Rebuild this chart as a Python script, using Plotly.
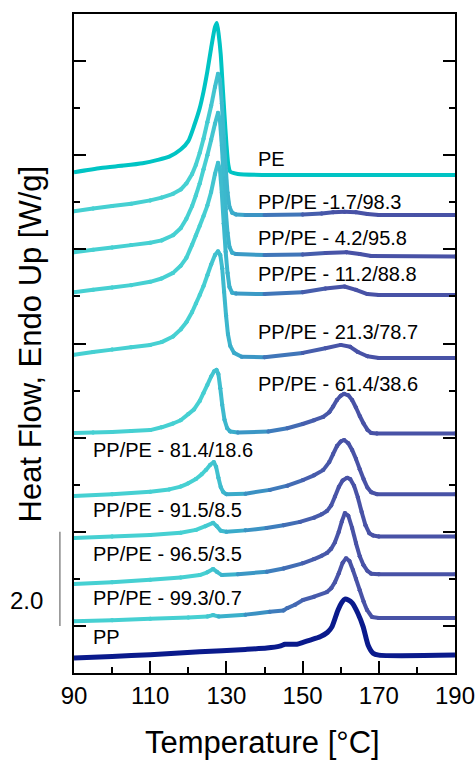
import plotly.graph_objects as go

# DSC heating traces: temperature (°C) and vertically offset heat flow (W/g)
T_pe = [90, 97, 103, 108, 112, 115, 118, 120, 121.5, 123, 124, 125, 126, 127, 127.5,
        128, 128.5, 129, 129.5, 130, 130.5, 131, 133, 140, 160, 190]
hf_pe = [10.64, 10.73, 10.78, 10.83, 10.9, 10.97, 11.12, 11.3, 11.62, 12.0, 12.35, 12.78, 13.28, 13.72, 13.81,
         13.55, 13.15, 12.5, 11.85, 11.25, 10.8, 10.65, 10.6, 10.58, 10.58, 10.58]

T_17 = [90, 95, 100, 105, 110, 113, 116, 118, 119.5, 121, 122, 123, 124, 125, 126, 127, 127.8, 128.3,
        128.8, 129.3, 129.8, 130.3, 130.8, 131.5, 132.5, 135, 140, 150, 155, 158, 161, 164, 167, 170, 180, 190]
hf_17 = [9.81, 9.87, 9.92, 9.97, 10.04, 10.1, 10.18, 10.27, 10.4, 10.6, 10.8, 11.05, 11.35, 11.7, 12.05, 12.45,
         12.73, 12.6, 12.1, 11.4, 10.75, 10.2, 9.9, 9.78, 9.74, 9.73, 9.73, 9.74, 9.76, 9.79, 9.8, 9.79, 9.75,
         9.73, 9.73, 9.73]

T_42 = [90, 95, 100, 105, 110, 113, 116, 118, 119.5, 121, 122, 123, 124, 125, 126, 127, 127.8, 128.3,
        128.8, 129.3, 129.8, 130.3, 130.8, 131.5, 132.5, 140, 150, 156, 161.5, 165, 168, 190]
hf_42 = [8.94, 8.99, 9.04, 9.09, 9.14, 9.19, 9.3, 9.45, 9.65, 9.92, 10.15, 10.4, 10.7, 11.0, 11.33, 11.67,
         11.9, 11.75, 11.2, 10.5, 9.85, 9.35, 9.05, 8.93, 8.9, 8.88, 8.89, 8.92, 8.94, 8.9, 8.86, 8.85]

T_112 = [90, 95, 100, 105, 110, 113, 116, 118, 119.5, 121, 122, 123, 124, 125, 126, 127, 127.8, 128.3,
         128.8, 129.3, 129.8, 130.3, 130.8, 131.5, 132.5, 140, 150, 156, 161, 164, 167, 170, 190]
hf_112 = [8.09, 8.14, 8.19, 8.24, 8.31, 8.38, 8.5, 8.65, 8.82, 9.1, 9.3, 9.5, 9.71, 9.93, 10.22, 10.6, 10.84,
          10.7, 10.2, 9.55, 8.95, 8.5, 8.2, 8.08, 8.06, 8.05, 8.09, 8.17, 8.21, 8.14, 8.05, 8.03, 8.03]

T_213 = [90, 95, 100, 105, 110, 113, 116, 118, 119.5, 121, 122, 123, 124, 125, 126, 127, 127.8, 128.4,
         128.9, 129.4, 129.9, 130.4, 131, 132, 134, 140, 150, 156, 160, 162.5, 164.5, 167, 170, 190]
hf_213 = [6.76, 6.82, 6.87, 6.92, 6.97, 7.03, 7.15, 7.3, 7.45, 7.67, 7.85, 8.03, 8.22, 8.45, 8.68, 8.88, 8.96,
          8.88, 8.6, 8.1, 7.6, 7.2, 6.95, 6.8, 6.72, 6.71, 6.8, 6.9, 6.97, 6.93, 6.82, 6.73, 6.69, 6.69]

T_614 = [90, 95, 100, 105, 110, 113, 116, 118, 120, 121.5, 123, 124, 125, 126, 126.8, 127.4, 127.9, 128.4,
         128.9, 129.5, 130.2, 131, 133, 141, 146, 150, 153, 155.4, 157, 158, 159, 160, 160.9, 162, 163, 164,
         165, 166, 167, 168, 169.5, 190]
hf_614 = [5.1, 5.11, 5.12, 5.14, 5.16, 5.22, 5.3, 5.37, 5.5, 5.6, 5.78, 5.95, 6.12, 6.3, 6.41, 6.44, 6.35, 6.05,
          5.7, 5.38, 5.2, 5.13, 5.11, 5.13, 5.2, 5.29, 5.37, 5.44, 5.54, 5.66, 5.8, 5.89, 5.93, 5.9, 5.8, 5.64,
          5.46, 5.3, 5.17, 5.1, 5.09, 5.09]

T_814 = [90, 100, 110, 115, 118, 120, 122, 123.5, 124.7, 125.7, 126.7, 127.3, 127.9, 128.5, 129.2, 130, 135,
         141.4, 146, 150.1, 153, 155.4, 157, 158, 159, 160, 160.9, 162, 163, 164, 165, 166, 167, 168, 169.5, 190]
hf_814 = [3.76, 3.8, 3.85, 3.9, 3.96, 4.03, 4.12, 4.22, 4.32, 4.42, 4.48, 4.38, 4.15, 3.95, 3.84, 3.8, 3.81,
          3.89, 3.98, 4.1, 4.2, 4.31, 4.48, 4.65, 4.82, 4.92, 4.95, 4.88, 4.74, 4.55, 4.33, 4.12, 3.94, 3.84,
          3.8, 3.8]

T_915 = [90, 100, 110, 118, 122, 124.5, 126.5, 127.5, 128.5, 130, 135, 140.5, 145, 149.3, 153, 155, 156.4,
         157.5, 158.5, 159.5, 160.5, 161.7, 162.5, 163.5, 164.5, 165.5, 166.5, 167.5, 168.5, 170, 190]
hf_915 = [2.87, 2.9, 2.93, 2.98, 3.04, 3.12, 3.19, 3.12, 3.02, 3.0, 3.03, 3.08, 3.14, 3.21, 3.3, 3.37, 3.44,
          3.56, 3.75, 3.95, 4.09, 4.15, 4.12, 3.98, 3.73, 3.42, 3.14, 2.97, 2.92, 2.9, 2.9]

T_965 = [90, 100, 110, 118, 123, 125, 126.5, 127.5, 128.8, 133, 140.6, 145, 150, 153, 155, 156.4, 157.5,
         158.5, 159.5, 160.3, 161.1, 162, 163, 164, 165, 166, 167, 168, 170, 190]
hf_965 = [1.89, 1.93, 1.98, 2.03, 2.08, 2.14, 2.21, 2.15, 2.08, 2.1, 2.15, 2.22, 2.33, 2.42, 2.49, 2.55, 2.64,
          2.78, 3.0, 3.22, 3.4, 3.34, 3.08, 2.76, 2.48, 2.29, 2.17, 2.11, 2.1, 2.1]

T_993 = [90, 100, 110, 120, 125, 126.5, 128, 135, 141.4, 145, 146, 148, 150.1, 153, 156.4, 157.5, 158.5,
         159.5, 160.5, 161.4, 162.3, 163.2, 164, 165, 166, 166.9, 168.2, 170, 190]
hf_993 = [1.1, 1.12, 1.15, 1.18, 1.2, 1.23, 1.2, 1.24, 1.3, 1.33, 1.38, 1.45, 1.55, 1.62, 1.72, 1.8, 1.93,
          2.12, 2.34, 2.44, 2.38, 2.19, 2.0, 1.76, 1.52, 1.34, 1.19, 1.17, 1.17]

T_pp = [90, 100, 110, 123, 135, 140.6, 144, 145.4, 147, 148.5, 150.1, 152, 154.6, 156.5, 157.7, 159.3,
        160.3, 161.1, 162, 163, 164.5, 165.9, 167.2, 168.5, 170, 190]
hf_pp = [0.32, 0.35, 0.39, 0.45, 0.5, 0.53, 0.57, 0.61, 0.61, 0.61, 0.65, 0.7, 0.77, 0.86, 0.98, 1.34,
         1.5, 1.57, 1.55, 1.49, 1.27, 0.98, 0.59, 0.42, 0.38, 0.38]

blend_T = [T_17, T_42, T_112, T_213, T_614, T_814, T_915, T_965, T_993]
blend_hf = [hf_17, hf_42, hf_112, hf_213, hf_614, hf_814, hf_915, hf_965, hf_993]

curve_labels = ["PE", "PP/PE -1.7/98.3", "PP/PE - 4.2/95.8", "PP/PE - 11.2/88.8",
                "PP/PE - 21.3/78.7", "PP/PE - 61.4/38.6", "PP/PE - 81.4/18.6",
                "PP/PE - 91.5/8.5", "PP/PE - 96.5/3.5", "PP/PE - 99.3/0.7", "PP"]
label_x = [137.8, 137.8, 137.8, 137.8, 137.8, 137.8, 94.5, 94.5, 94.5, 94.5, 94.5]
label_y = [10.93, 10.0, 9.25, 8.48, 7.24, 6.14, 4.74, 3.46, 2.53, 1.6, 0.76]

scale_bar = 2.0            # W/g
scale_base = 1.0

x_major = [90, 110, 130, 150, 170, 190]
x_minor = [100, 120, 140, 160, 180]

# Colour ramp along temperature for the blend traces (turquoise -> slate blue)
ramp = [(90, (70, 208, 210)), (124, (70, 208, 210)), (131, (58, 178, 204)),
        (141, (60, 132, 192)), (151, (70, 96, 174)), (160, (72, 82, 166)), (190, (72, 82, 166))]


def ramp_color(t):
    for (t0, c0), (t1, c1) in zip(ramp[:-1], ramp[1:]):
        if t0 <= t <= t1:
            f = 0 if t1 == t0 else (t - t0) / (t1 - t0)
            r, g, b = (round(a + (b_ - a) * f) for a, b_ in zip(c0, c1))
            return f"rgb({r},{g},{b})"
    return "rgb(72,82,166)"


fig = go.Figure()

LW = 4
fig.add_trace(go.Scatter(x=T_pe, y=hf_pe, mode="lines",
                         line=dict(color="#00C4C4", width=LW, shape="spline", smoothing=0.6),
                         hoverinfo="skip"))

for T, hf in zip(blend_T, blend_hf):
    for i in range(len(T) - 1):
        c = ramp_color(0.5 * (T[i] + T[i + 1]))
        fig.add_trace(go.Scatter(x=T[i:i + 2], y=hf[i:i + 2], mode="lines+markers",
                                 line=dict(color=c, width=LW),
                                 marker=dict(color=c, size=LW),
                                 hoverinfo="skip"))

fig.add_trace(go.Scatter(x=T_pp, y=hf_pp, mode="lines",
                         line=dict(color="#0A1A8C", width=5, shape="spline", smoothing=0.6),
                         hoverinfo="skip"))

for txt, lx, ly in zip(curve_labels, label_x, label_y):
    fig.add_annotation(x=lx, y=ly, xref="x", yref="y", text=txt, showarrow=False,
                       xanchor="left", yanchor="middle",
                       font=dict(size=20, color="black"))

# Scale bar for heat flow
fig.add_shape(type="line", xref="paper", yref="y", x0=-0.037, x1=-0.037,
              y0=scale_base, y1=scale_base + scale_bar, line=dict(color="#8a8a8a", width=1.5))
fig.add_annotation(xref="paper", yref="y", x=-0.124, y=scale_base + 0.55, text=f"{scale_bar:.1f}",
                   showarrow=False, xanchor="center", yanchor="middle", font=dict(size=24, color="black"))

# Axis titles
fig.add_annotation(xref="paper", yref="paper", x=0.496, y=-0.106, text="Temperature [°C]",
                   showarrow=False, xanchor="center", yanchor="middle", font=dict(size=31, color="black"))
fig.add_annotation(xref="paper", yref="paper", x=-0.113, y=0.5, text="Heat Flow, Endo Up [W/g]",
                   textangle=-90, showarrow=False, xanchor="center", yanchor="middle",
                   font=dict(size=31, color="black"))

fig.update_layout(
    width=476, height=760,
    margin=dict(l=74, r=21, t=14, b=87, autoexpand=False),
    plot_bgcolor="white", paper_bgcolor="white",
    showlegend=False,
    font=dict(family="Liberation Sans, Arial, sans-serif", color="black"),
    xaxis=dict(range=[90, 190], tickmode="array", tickvals=x_major, automargin=False,
               ticks="inside", ticklen=12, tickwidth=2, tickcolor="black",
               showline=True, linewidth=2, linecolor="black", mirror=True,
               showgrid=False, zeroline=False, tickfont=dict(size=24),
               minor=dict(tickmode="array", tickvals=x_minor, ticks="inside",
                          ticklen=6, tickwidth=2, tickcolor="black")),
    xaxis2=dict(overlaying="x", side="top", range=[0, 12], tickmode="array", automargin=False,
                tickvals=[2, 4, 6, 8, 10], ticks="inside", ticklen=12, tickwidth=2,
                tickcolor="black", showticklabels=False, showline=False,
                showgrid=False, zeroline=False,
                minor=dict(tickmode="array", tickvals=[1, 3, 5, 7, 9, 11], ticks="inside",
                           ticklen=6, tickwidth=2, tickcolor="black")),
    yaxis=dict(range=[0, 14], tickmode="array", tickvals=[1, 3, 5, 7, 9, 11, 13], automargin=False,
               ticks="inside", ticklen=12, tickwidth=2, tickcolor="black",
               showticklabels=False, showline=True, linewidth=2, linecolor="black",
               mirror="ticks", showgrid=False, zeroline=False,
               minor=dict(tickmode="array", tickvals=[2, 4, 6, 8, 10, 12], ticks="inside",
                          ticklen=6, tickwidth=2, tickcolor="black")),
)

fig.write_html("out.html")
